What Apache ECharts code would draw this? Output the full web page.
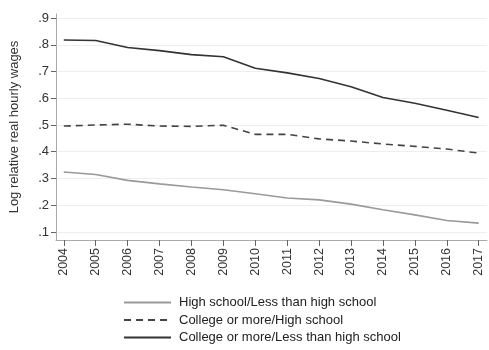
<!DOCTYPE html>
<html>
<head>
<meta charset="utf-8">
<script src="https://cdn.jsdelivr.net/npm/echarts@6/dist/echarts.min.js"></script>
<style>
  html, body { margin: 0; padding: 0; background: #fff; }
  #chart { width: 489px; height: 350px; }
</style>
</head>
<body>
<div id="chart"></div>
<script>
// data
const years = [2004, 2005, 2006, 2007, 2008, 2009, 2010, 2011, 2012, 2013, 2014, 2015, 2016, 2017];
const hsLessHs = [0.324, 0.315, 0.293, 0.280, 0.268, 0.258, 0.243, 0.227, 0.220, 0.204, 0.183, 0.164, 0.143, 0.133];
const colHs = [0.496, 0.500, 0.503, 0.496, 0.495, 0.499, 0.465, 0.465, 0.448, 0.440, 0.429, 0.420, 0.410, 0.395];
const colLessHs = [0.818, 0.816, 0.790, 0.778, 0.763, 0.755, 0.712, 0.695, 0.674, 0.643, 0.603, 0.581, 0.555, 0.528];
const yTicks = [0.1, 0.2, 0.3, 0.4, 0.5, 0.6, 0.7, 0.8, 0.9];
const seriesNames = [
  'High school/Less than high school',
  'College or more/High school',
  'College or more/Less than high school'
];

const font = 'Liberation Sans, Arial, sans-serif';

function pairs(vals) {
  return years.map((y, i) => [y, vals[i]]);
}

const chart = echarts.init(document.getElementById('chart'));

chart.setOption({
  animation: false,
  backgroundColor: '#fff',
  textStyle: { fontFamily: font },
  grid: { left: 44, right: 2, top: 14, bottom: 110 },
  xAxis: {
    type: 'value',
    min: 2003.756,
    max: 2017.26,
    axisLine: { show: true, lineStyle: { color: '#aaa', width: 1 } },
    axisTick: { show: true, length: 6, customValues: years, lineStyle: { color: '#666' } },
    axisLabel: {
      customValues: years,
      rotate: 90,
      fontSize: 12.5,
      color: '#333',
      margin: 8,
      formatter: v => String(Math.round(v))
    },
    splitLine: { show: false }
  },
  yAxis: {
    type: 'value',
    min: 0.07,
    max: 0.915,
    name: 'Log relative real hourly wages',
    nameLocation: 'middle',
    nameGap: 35,
    nameTextStyle: { fontSize: 13, color: '#333' },
    axisLine: { show: true, lineStyle: { color: '#aaa', width: 1 } },
    axisTick: { show: true, length: 5, customValues: yTicks, lineStyle: { color: '#666' } },
    axisLabel: {
      customValues: yTicks,
      fontSize: 13,
      color: '#333',
      margin: 7,
      formatter: v => v.toFixed(1).replace('0.', '.')
    },
    splitLine: { show: true, lineStyle: { color: '#eeeeee', width: 1 } }
  },
  legend: {
    orient: 'vertical',
    left: 123,
    top: 296,
    padding: 0,
    itemWidth: 47,
    itemHeight: 12,
    itemGap: 4.5,
    itemStyle: { opacity: 0 },
    textStyle: { fontSize: 13, color: '#222', padding: [0, 0, 0, 3] },
    data: seriesNames
  },
  series: [
    {
      name: seriesNames[0],
      type: 'line',
      symbol: 'none',
      data: pairs(hsLessHs),
      lineStyle: { color: '#9a9a9a', width: 1.6 },
      itemStyle: { color: '#9a9a9a' }
    },
    {
      name: seriesNames[1],
      type: 'line',
      symbol: 'none',
      data: pairs(colHs),
      lineStyle: { color: '#444', width: 1.6, type: [7, 5] },
      itemStyle: { color: '#444' }
    },
    {
      name: seriesNames[2],
      type: 'line',
      symbol: 'none',
      data: pairs(colLessHs),
      lineStyle: { color: '#333', width: 1.6 },
      itemStyle: { color: '#333' }
    }
  ]
});
</script>
</body>
</html>
